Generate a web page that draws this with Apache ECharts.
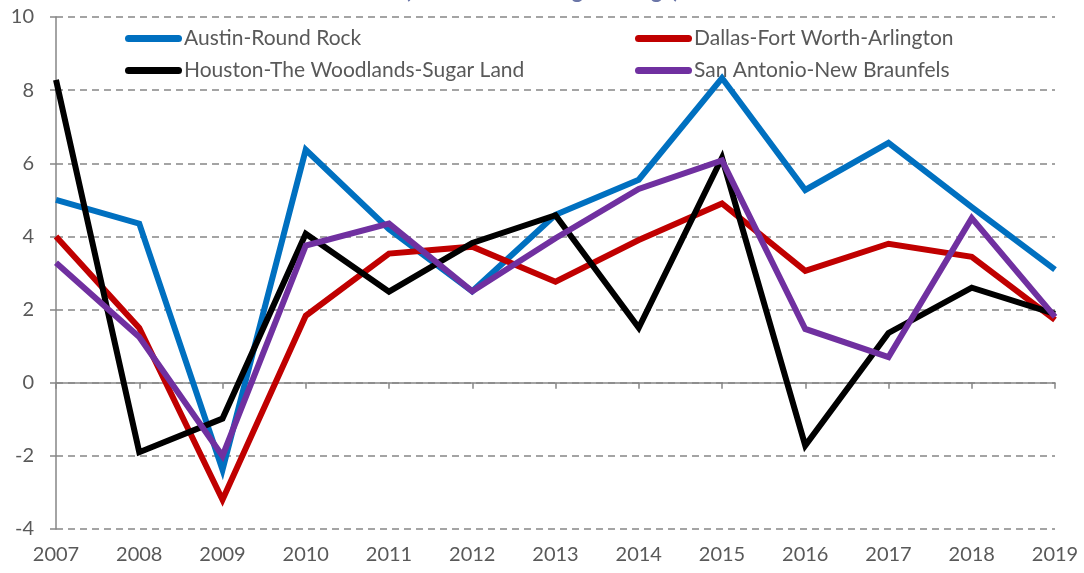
<!DOCTYPE html>
<html>
<head>
<meta charset="utf-8">
<script src="https://cdn.jsdelivr.net/npm/echarts@6/dist/echarts.min.js"></script>
<style>
html,body{margin:0;padding:0;background:#fff;}
#chart{width:1084px;height:573px;}
</style>
</head>
<body>
<div id="chart"></div>
<script>
const years = ['2007','2008','2009','2010','2011','2012','2013','2014','2015','2016','2017','2018','2019'];
const austin = [5.0, 4.35, -2.38, 6.37, 4.2, 2.5, 4.59, 5.55, 8.33, 5.27, 6.56, 4.8, 3.09];
const dallas = [4.0, 1.5, -3.2, 1.83, 3.53, 3.72, 2.76, 3.9, 4.9, 3.06, 3.8, 3.44, 1.72];
const houston = [8.28, -1.9, -0.98, 4.07, 2.49, 3.82, 4.58, 1.5, 6.15, -1.72, 1.36, 2.6, 1.88];
const sanAntonio = [3.28, 1.25, -2.0, 3.75, 4.35, 2.5, 3.95, 5.3, 6.08, 1.47, 0.7, 4.5, 1.8];
const yTicks = {min: -4, max: 10, interval: 2};
const titleText = '(Annual Percentage Change)';

const names = ['Austin-Round Rock','Dallas-Fort Worth-Arlington','Houston-The Woodlands-Sugar Land','San Antonio-New Braunfels'];
const colors = ['#0070C0','#C00000','#000000','#7030A0'];
const datasets = [austin, dallas, houston, sanAntonio];
const FONT = 'Lato';
const TXT = '#595959';
const capsule = 'path://M3.5,0 h50 a3.5,3.5 0 0 1 0,7 h-50 a3.5,3.5 0 0 1 0,-7 z';

const chart = echarts.init(document.getElementById('chart'), null, {renderer:'canvas'});
const legendCommon = {
  orient: 'vertical',
  top: 23,
  itemGap: 11,
  itemWidth: 57, itemHeight: 7,
  icon: capsule,
  textStyle: {fontFamily: FONT, fontSize: 21, color: TXT, padding: [0,0,0,-3]}
};
chart.setOption({
  animation: false,
  backgroundColor: '#ffffff',
  title: {
    text: titleText,
    left: 'center',
    top: -25,
    textStyle: {fontFamily: FONT, fontSize: 22, fontWeight: 'bold', color: '#6b76a8'}
  },
  legend: [
    Object.assign({data: [names[0], names[2]], left: 120}, legendCommon),
    Object.assign({data: [names[1], names[3]], left: 630}, legendCommon)
  ],
  grid: {left: 56, right: 29, top: 17, bottom: 44, containLabel: false},
  xAxis: [
    {
      type: 'category',
      data: years,
      boundaryGap: false,
      axisLine: {show: true, onZero: true, lineStyle: {color: '#868686', width: 1.5}},
      axisTick: {show: true, inside: false, length: 6, lineStyle: {color: '#868686', width: 1.5}},
      axisLabel: {show: false},
      splitLine: {show: false}
    },
    {
      type: 'category',
      data: years,
      boundaryGap: false,
      position: 'bottom',
      axisLine: {show: false, onZero: false},
      axisTick: {show: false},
      axisLabel: {show: true, fontFamily: FONT, fontSize: 20, color: TXT, margin: 16},
      splitLine: {show: false}
    }
  ],
  yAxis: {
    type: 'value',
    min: yTicks.min, max: yTicks.max, interval: yTicks.interval,
    axisLine: {show: true, lineStyle: {color: '#868686', width: 1.5}},
    axisTick: {show: true, length: 6, lineStyle: {color: '#868686', width: 1.5}},
    axisLabel: {fontFamily: FONT, fontSize: 20, color: TXT, margin: 22},
    splitLine: {show: true, lineStyle: {color: '#868686', width: 1.5, type: [7,5]}}
  },
  series: datasets.map((d, i) => ({
    name: names[i],
    type: 'line',
    data: d,
    xAxisIndex: 0,
    symbol: 'none',
    color: colors[i],
    lineStyle: {width: 6, color: colors[i], join: 'miter'},
    itemStyle: {color: colors[i]},
    z: 2 + i
  }))
});
</script>
</body>
</html>
